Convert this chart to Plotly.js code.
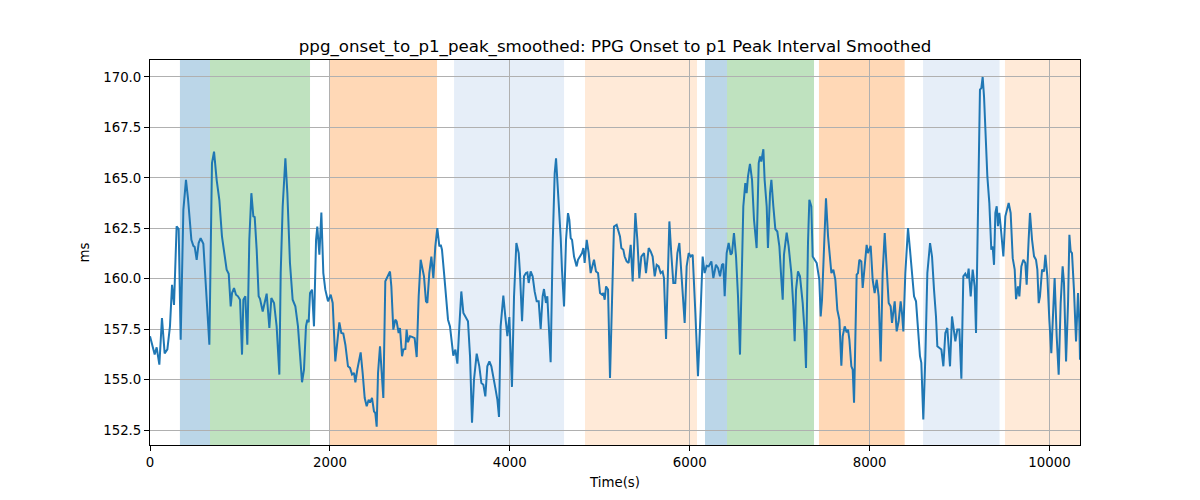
<!DOCTYPE html>
<html>
<head>
<meta charset="utf-8">
<script src="https://cdn.plot.ly/plotly-3.0.1.min.js"></script>
<style>html,body{margin:0;padding:0;background:#fff;}#chart{width:1200px;height:500px;}</style>
</head>
<body>
<div id="chart"></div>
<script>
// ---- data ----
const times = [
0,30,52,74,104,133,163,193,222,245,267,296,319,341,371,400,422,460,482,497,519,541,563,593,630,660,689,712,741,771,800,823,852,875,897,912,934,956,978,1001,1023,1038,1060,1082,1104,1127,1149,1164,1186,1208,1223,1253,1275,1297,
1327,1349,1379,1408,1438,1453,1475,1505,1527,1556,1586,1616,1645,1668,1690,1712,1734,1749,1764,1779,1801,1823,1846,1860,1883,1905,1927,1949,1979,2009,2031,2060,2083,2105,2127,2149,2172,2201,2224,2246,2268,2283,2305,2327,2342,2364,2387,2409,2431,2446,2468,2490,2505,2520,2535,2557,
2594,2616,2638,2668,2683,2705,2727,2742,2764,2779,2802,2816,2839,2853,2868,2891,2913,2942,2965,2987,3009,3024,3046,3068,3083,3105,3128,3150,3172,3194,3217,3232,3246,3269,3291,3313,3335,3357,3372,3395,3417,3439,3461,3484,3506,3535,3558,3580,3602,3632,3661,3684,3706,3728,3750,3773,3795,3817,3839,3862,
3880,3898,3928,3950,3973,3995,4024,4047,4073,4099,4113,4136,4158,4180,4195,4210,4232,4254,4276,4299,4321,4343,4365,4380,4402,4417,4440,4454,4477,4499,4514,4528,4551,4566,4580,4603,4625,4647,4662,4677,4692,4714,4743,4758,4780,4803,4818,4832,4855,4877,4899,4921,4936,4958,4981,5003,5025,5040,5055,5070,5092,5114,5136,5158,
5188,5210,5225,5240,5262,5277,5299,5321,5344,5366,5396,5418,5440,5462,5492,5514,5544,5566,5588,5611,5633,5655,5677,5699,5714,5737,5759,5774,5796,5818,5840,5863,5885,5907,5944,5966,5989,6011,6033,6063,6092,6122,6144,6166,6189,6211,6241,6263,6292,6315,6337,6359,6374,6389,6411,6433,6456,
6470,6492,6515,6537,6559,6581,6596,6618,6633,6648,6670,6693,6715,6744,6767,6782,6796,6819,6833,6856,6870,6893,6908,6930,6952,6974,6997,7019,7034,7048,7078,7100,7130,7152,7167,7182,7204,7226,7256,7278,7293,7315,7330,7352,7367,7389,7412,7441,7456,7471,7493,7515,7538,7560,7575,7597,7619,7641,7664,7686,7701,7723,7745,
7760,7775,7797,7812,7827,7841,7856,7871,7886,7908,7923,7945,7967,7982,7997,8012,8034,8056,8079,8101,8123,8145,8168,8190,8212,8234,8249,8279,8301,8323,8345,8360,8375,8397,8427,8449,8471,8494,8516,8538,8560,8575,8597,8620,8642,8672,8694,8716,8738,8753,8775,8798,8820,8842,8864,8894,8916,8931,8953,8975,8998,9020,
9042,9064,9087,9101,9124,9146,9168,9183,9205,9227,9242,9257,9272,9287,9309,9331,9353,9368,9383,9398,9413,9427,9442,9457,9472,9487,9509,9531,9546,9568,9591,9613,9628,9650,9665,9687,9709,9731,9746,9768,9783,9806,9828,9850,9865,9880,9894,9917,9939,9954,9976,9998,10020,10035,10057,10080,10102,10124,10146,10161,10184,10206,10221,10235,10250,10272,10295,10317,10332,10339
];
const values = [
157.15,156.65,156.24,156.6,155.74,158.05,156.3,156.5,157.64,159.7,158.7,162.6,162.46,156.98,163.42,164.9,164.0,161.93,161.63,161.57,160.94,161.77,162.01,161.73,158.96,156.73,165.73,166.3,164.9,163.9,162.1,161.44,160.45,160.25,158.63,159.29,159.54,159.21,159.13,158.96,156.24,158.96,159.13,156.73,161.93,164.24,163.09,163.05,161.44,159.13,159.0,158.38,158.8,159.26,
157.56,159.04,158.8,157.64,155.25,160.28,163.58,165.97,164.24,160.78,158.96,158.63,157.64,156.16,154.87,155.5,157.64,157.97,157.84,159.29,159.46,157.64,161.93,162.59,161.19,163.28,160.28,159.46,158.88,159.21,158.8,155.9,156.82,157.84,157.31,157.28,156.73,155.66,155.58,155.25,155.33,154.87,155.5,155.97,156.35,155.33,154.09,153.68,154.0,153.86,154.09,153.43,153.34,152.67,155.33,156.65,
154.09,159.87,160.12,160.36,159.62,157.48,157.97,157.89,157.31,157.56,156.16,156.49,156.52,157.48,156.85,157.15,157.12,157.06,156.12,159.13,160.94,160.61,160.12,158.88,158.8,160.28,161.1,160.03,161.6,162.51,161.6,161.68,161.44,160.28,159.13,157.97,157.64,156.82,156.19,156.49,155.79,157.64,159.37,158.3,158.13,157.89,156.16,152.86,155.0,156.29,155.66,154.83,154.75,154.17,155.66,155.9,155.66,155.0,154.59,154.0,
153.15,157.64,159.16,158.13,157.15,158.1,154.64,159.13,161.77,161.27,160.28,157.89,160.12,160.28,160.31,159.79,160.36,160.12,159.37,158.88,158.88,157.51,159.13,159.49,158.8,159.13,156.82,155.86,161.77,165.23,165.97,164.98,163.09,162.01,160.45,158.63,161.93,163.25,162.92,162.01,161.93,161.1,160.61,160.94,161.1,161.27,161.52,160.78,161.93,161.27,160.28,160.69,160.94,160.36,160.28,159.29,159.21,159.29,158.96,159.62,159.46,155.08,159.46,162.59,
162.67,162.26,162.1,161.52,161.44,161.1,160.86,160.78,161.68,159.87,163.25,161.93,160.03,161.1,161.27,160.28,161.52,161.35,161.1,160.12,160.69,160.61,160.28,160.36,160.03,157.01,160.28,162.84,161.19,159.79,159.79,161.27,161.77,160.28,157.81,160.61,161.27,161.1,161.19,158.3,155.17,158.46,161.1,160.28,160.64,160.61,160.86,160.03,160.69,160.53,160.12,160.69,160.74,159.13,161.27,161.77,161.19,
161.27,162.26,161.1,159.13,156.24,160.94,163.58,164.74,164.24,165.07,165.69,164.9,162.92,161.52,165.73,166.06,165.81,166.42,164.9,163.58,161.52,164.24,164.9,163.58,162.46,162.34,161.6,159.95,158.96,161.19,162.29,161.6,160.28,158.63,156.9,159.46,160.36,160.12,158.8,157.31,155.58,161.77,163.91,163.58,161.1,160.94,160.78,159.95,158.13,158.96,161.93,163.99,162.1,160.78,160.28,160.45,159.95,158.46,157.97,155.69,157.15,157.64,157.34,
157.48,156.98,155.66,155.5,153.85,156.98,160.2,160.28,160.94,160.86,159.54,160.61,161.68,161.27,161.44,161.63,159.95,159.29,159.95,159.13,155.9,160.28,162.26,160.61,158.8,158.63,157.81,158.88,157.39,157.89,158.88,158.3,157.39,160.28,162.51,161.44,160.12,159.13,158.88,157.48,156.16,155.83,153.02,156.16,160.28,161.77,161.1,159.46,158.13,156.65,156.57,156.49,155.66,157.31,157.56,155.66,158.13,157.64,156.9,157.48,157.48,155.04,
160.12,160.25,160.03,160.5,159.12,160.45,159.62,157.31,164.08,169.37,169.45,170.0,169.04,167.06,165.07,163.75,161.44,161.6,160.69,163.26,163.59,162.6,163.26,162.6,161.93,161.11,163.09,163.59,163.75,163.26,161.02,160.45,158.99,159.62,159.12,160.61,160.94,160.78,159.7,161.93,163.26,161.93,161.11,160.94,160.45,158.79,159.12,160.45,160.36,161.19,160.12,157.97,156.31,157.8,160.03,157.14,155.24,158.79,160.61,159.79,155.9,158.79,162.18,161.36,161.27,159.45,156.89,159.29,157.8,155.98
];
// shaded phases
const phaseStart = [333, 667, 2001, 3380, 4836, 6170, 6415, 7437, 8594, 9505];
const phaseEnd   = [667, 1779, 3191, 4603, 6081, 6415, 7382, 8390, 9445, 10339];
const phaseKind  = ['a', 'b', 'c', 'd', 'e', 'a', 'b', 'c', 'd', 'e'];
const xTickVals = [0, 2000, 4000, 6000, 8000, 10000];
const yTickVals = [152.5, 155.0, 157.5, 160.0, 162.5, 165.0, 167.5, 170.0];

// ---- styles ----
const kindColor = {
  a: 'rgba(31,119,180,0.30)',
  b: 'rgba(44,160,44,0.30)',
  c: 'rgba(255,127,14,0.30)',
  d: 'rgba(90,140,210,0.15)',
  e: 'rgba(255,127,14,0.16)'
};
const shapes = phaseStart.map((s, i) => ({
  type: 'rect', xref: 'x', yref: 'paper', x0: s, x1: phaseEnd[i], y0: 0, y1: 1,
  fillcolor: kindColor[phaseKind[i]], line: {width: 0}, layer: 'below'
}));

const font = 'DejaVu Sans, sans-serif';
const trace = {
  x: times, y: values, type: 'scatter', mode: 'lines',
  line: {color: '#1f77b4', width: 2}, hoverinfo: 'skip'
};
const layout = {
  width: 1200, height: 500,
  margin: {l: 150, r: 120, t: 60, b: 55},
  paper_bgcolor: '#fff', plot_bgcolor: 'rgba(0,0,0,0)',
  font: {family: font, size: 13.33, color: '#000'},
  showlegend: false,
  title: {text: 'ppg_onset_to_p1_peak_smoothed: PPG Onset to p1 Peak Interval Smoothed',
          font: {family: font, size: 16.67, color: '#000'},
          xref: 'paper', x: 0.5, xanchor: 'center', yref: 'container', y: 0.908, yanchor: 'middle'},
  xaxis: {range: [0, 10339], tickvals: xTickVals, ticktext: xTickVals.map(String),
          showgrid: true, gridcolor: '#b0b0b0', gridwidth: 1,
          showline: true, mirror: true, linecolor: '#000', linewidth: 1,
          ticks: 'outside', ticklen: 5, tickcolor: '#000', zeroline: false,
          title: {text: 'Time(s)', font: {family: font, size: 13.33}, standoff: 8}},
  yaxis: {range: [151.76, 170.84], tickvals: yTickVals, ticktext: yTickVals.map(v => v.toFixed(1)),
          showgrid: true, gridcolor: '#b0b0b0', gridwidth: 1,
          showline: true, mirror: true, linecolor: '#000', linewidth: 1,
          ticks: 'outside', ticklen: 5, tickcolor: '#000', zeroline: false,
          title: {text: 'ms', font: {family: font, size: 13.33}, standoff: 10}},
  shapes: shapes
};
Plotly.newPlot('chart', [trace], layout, {staticPlot: true, displayModeBar: false});
</script>
</body>
</html>
